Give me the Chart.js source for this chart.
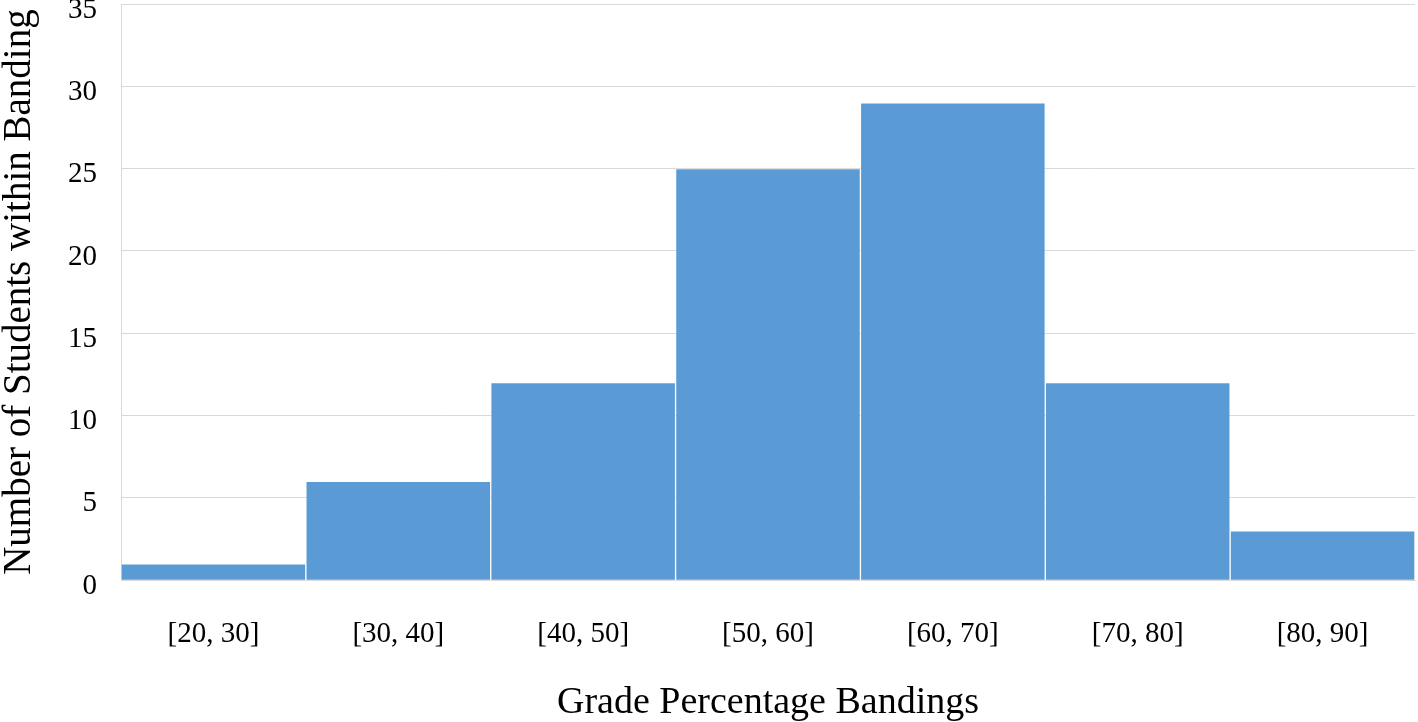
<!DOCTYPE html>
<html>
<head>
<meta charset="utf-8">
<script src="https://cdn.jsdelivr.net/npm/chart.js@4"></script>
<style>
  html, body { margin: 0; padding: 0; background: #fff; }
  #wrap { width: 1418px; height: 722px; }
</style>
</head>
<body>
<div id="wrap"><canvas id="histChart"></canvas></div>
<script>
const ctx = document.getElementById("histChart");

// Bandes de notes et effectifs
const bandings = ["[20, 30]", "[30, 40]", "[40, 50]", "[50, 60]", "[60, 70]", "[70, 80]", "[80, 90]"];
const students = [1, 6, 12, 25, 29, 12, 3];
const yTicks = [0, 5, 10, 15, 20, 25, 30, 35];

const serif = "'Liberation Serif', 'Times New Roman', serif";
const lineGrey = "#d9d9d9";

// pas de marge de label en haut/bas : l'axe va jusqu'au bord
const noScalePadding = (scale) => {
  scale.paddingTop = 0;
  scale.paddingBottom = 0;
  scale.paddingLeft = 0;
  scale.paddingRight = 0;
};

const config = {
  type: "bar",
  data: {
    labels: bandings,
    datasets: [
      {
        label: "Students",
        data: students,
        backgroundColor: "#5b9bd5",
        borderColor: "rgba(255, 255, 255, 0.25)",
        borderWidth: 1,
        barPercentage: 1,
        categoryPercentage: 1,
      },
    ],
  },
  options: {
    responsive: true,
    maintainAspectRatio: false,
    animation: false,
    layout: { padding: { top: 4, right: 3, left: 0, bottom: 0 } },
    plugins: {
      legend: { display: false },
      tooltip: { enabled: false },
    },
    scales: {
      x: {
        grid: { display: false },
        border: { display: true, color: lineGrey, width: 1 },
        ticks: {
          color: "#000",
          padding: 29,
          font: { family: serif, size: 29, lineHeight: 1.2 },
        },
        title: {
          display: true,
          text: "Grade Percentage Bandings",
          color: "#000",
          font: { family: serif, size: 38, lineHeight: 1 },
          padding: { top: 3, bottom: 0 },
        },
        afterFit: noScalePadding,
      },
      y: {
        min: 0,
        max: 35,
        afterBuildTicks: (scale) => {
          scale.ticks = yTicks.map((v) => ({ value: v }));
        },
        grid: { color: lineGrey, lineWidth: 1, drawTicks: false },
        border: { display: true, color: lineGrey, width: 1 },
        ticks: {
          color: "#000",
          padding: 24,
          labelOffset: 6,
          font: { family: serif, size: 29 },
        },
        title: {
          display: true,
          text: "Number of Students within Banding",
          color: "#000",
          font: { family: serif, size: 39, lineHeight: 1 },
          padding: { top: 0, bottom: 5 },
        },
        afterFit: noScalePadding,
      },
    },
  },
};

new Chart(ctx, config);
</script>
</body>
</html>
